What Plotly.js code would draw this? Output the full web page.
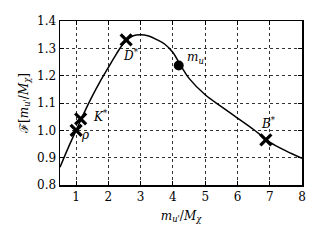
<!DOCTYPE html>
<html><head><meta charset="utf-8">
<script src="https://cdn.plot.ly/plotly-3.0.1.min.js"></script>
<style>html,body{margin:0;padding:0;background:#fff}#c{width:320px;height:240px}</style>
</head><body><div id="c"></div>
<script>
var curveX = [0.5, 0.75, 1.0, 1.25, 1.5, 1.75, 2.0, 2.25, 2.5, 2.75, 3.0, 3.25, 3.5, 3.75, 4.0, 4.25, 4.5, 5.0, 5.5, 6.0, 6.5, 7.0, 7.5, 8.0];
var curveY = [0.865, 0.935, 1.0, 1.065, 1.125, 1.18, 1.23, 1.28, 1.322, 1.345, 1.35, 1.345, 1.332, 1.315, 1.285, 1.235, 1.19, 1.13, 1.087, 1.045, 1.003, 0.957, 0.925, 0.898];
var mesonNames = ['ρ', 'K*', 'D*', 'B*'];
var mesonX = [1.0, 1.14, 2.55, 6.88];
var mesonY = [1.0, 1.042, 1.331, 0.965];
var dotX = [4.18];
var dotY = [1.237];
var xTicks = [1, 2, 3, 4, 5, 6, 7, 8];
var yTicks = [0.8, 0.9, 1.0, 1.1, 1.2, 1.3, 1.4];

var serif = 'DejaVu Serif, Liberation Serif, serif';
var data = [
  {x: curveX, y: curveY, mode: 'lines', line: {color: '#000', width: 1.5, shape: 'spline'}, hoverinfo: 'skip'},
  {x: mesonX, y: mesonY, mode: 'markers', marker: {symbol: 'x-thin', size: 11, line: {color: '#000', width: 3.2}}},
  {x: dotX, y: dotY, mode: 'markers', marker: {symbol: 'circle', size: 10, color: '#000'}}
];
var lab = [
  {x: mesonX[0], y: mesonY[0], text: '<i>ρ</i>', xshift: 9, yshift: -5},
  {x: mesonX[1], y: mesonY[1], text: '<i>K</i><sup>*</sup>', xshift: 20, yshift: 3},
  {x: mesonX[2], y: mesonY[2], text: '<i>D</i><sup>*</sup>', xshift: 5, yshift: -15},
  {x: mesonX[3], y: mesonY[3], text: '<i>B</i><sup>*</sup>', xshift: 3, yshift: 17},
  {x: dotX[0], y: dotY[0], text: '<i>m</i><sub><i>u\'</i></sub>', xshift: 18, yshift: 8}
].map(function(a){ return {x: a.x, y: a.y, text: a.text, xshift: a.xshift, yshift: a.yshift, showarrow: false, font: {family: serif, size: 12, color: '#000'}}; });

var ax = {showline: true, linecolor: '#000', linewidth: 1.5, mirror: 'ticks', ticks: 'inside', ticklen: 4, tickcolor: '#000',
  showgrid: true, gridcolor: '#000', griddash: 'dot', gridwidth: 0.8, zeroline: false, tickfont: {family: serif, size: 12, color: '#000'}};
var layout = {
  width: 320, height: 240, margin: {l: 60, r: 18, t: 21, b: 55},
  paper_bgcolor: '#fff', plot_bgcolor: '#fff', showlegend: false,
  xaxis: Object.assign({}, ax, {range: [0.5, 8], tickvals: xTicks, ticktext: xTicks.map(String),
    title: {text: '<i>m</i><sub><i>u\'</i></sub>/<i>M</i><sub><i>χ</i></sub>', font: {family: serif, size: 12, color: '#000'}, standoff: 8}}),
  yaxis: Object.assign({}, ax, {range: [0.8, 1.4], tickvals: yTicks, ticktext: yTicks.map(function(v){return v.toFixed(1);}),
    title: {text: 'ℱ[<i>m</i><sub><i>u\'</i></sub>/<i>M</i><sub><i>χ</i></sub>]', font: {family: serif, size: 12, color: '#000'}, standoff: 6}}),
  annotations: lab
};
Plotly.newPlot('c', data, layout, {staticPlot: true, displayModeBar: false});
</script></body></html>
